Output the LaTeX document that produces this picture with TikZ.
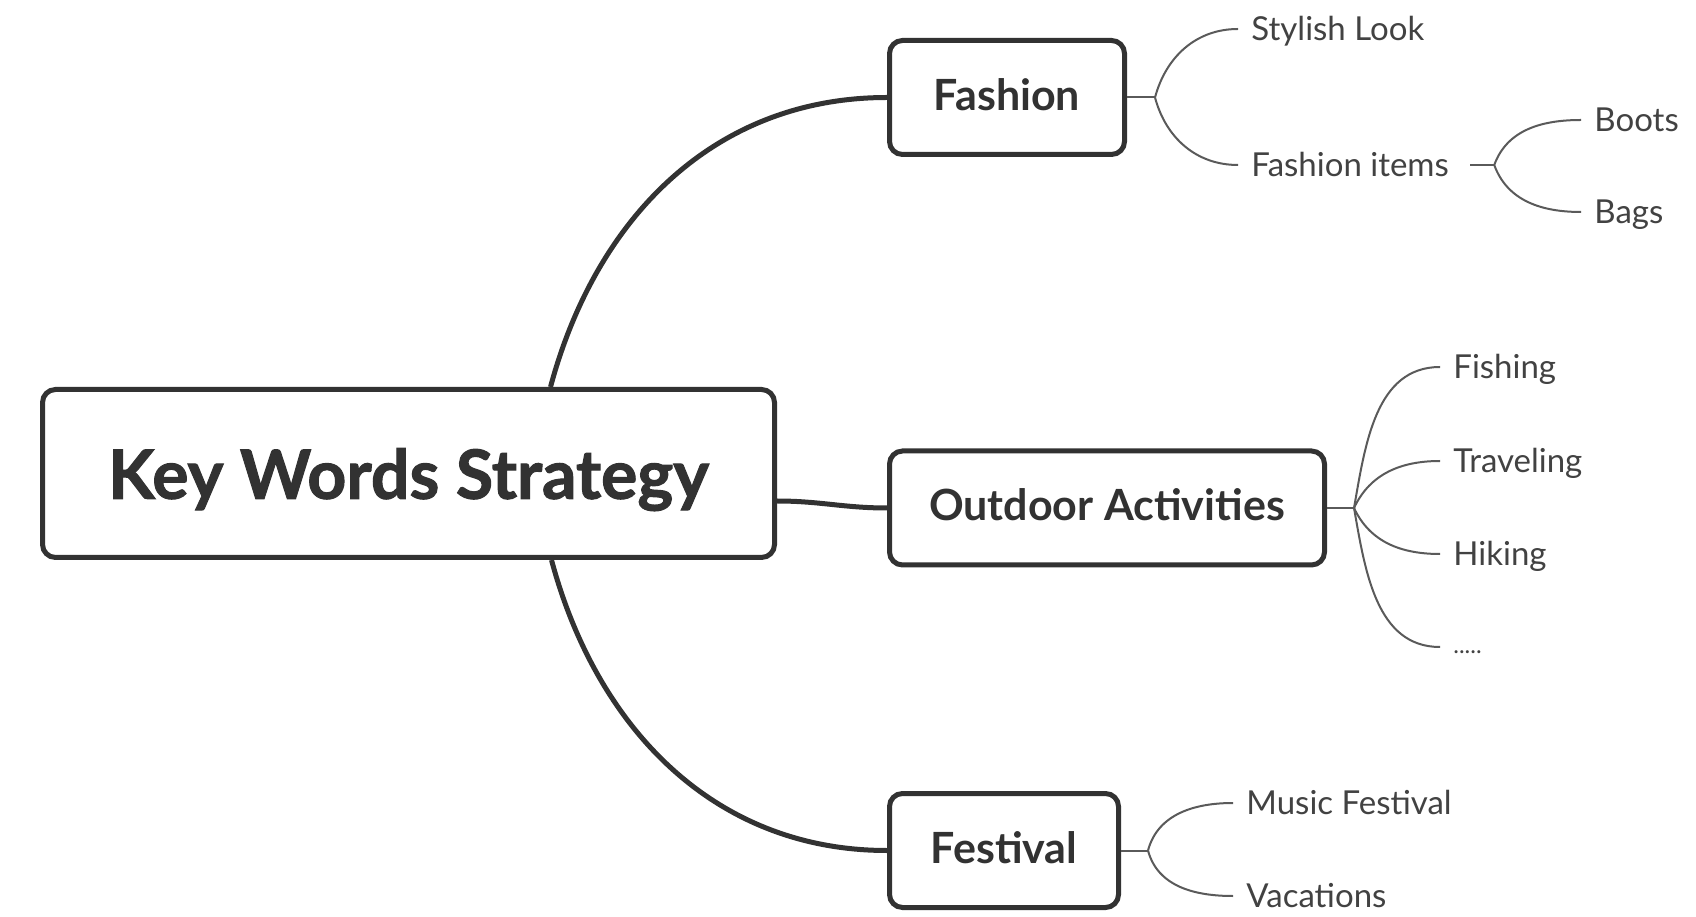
\documentclass[tikz,border=0pt]{standalone}
\usepackage{fontspec}
\setmainfont{Lato}
\newfontfamily\heavyfont{Lato}[BoldFeatures={FakeBold=1.5}]
\definecolor{inkdark}{RGB}{50,50,50}
\definecolor{inkgray}{RGB}{66,66,66}
\definecolor{twiggray}{RGB}{90,90,90}
\usetikzlibrary{positioning,calc}

\begin{document}
\begin{tikzpicture}[x=0.5pt,y=0.5pt]
  \tikzstyle{topic}=[rectangle,draw=inkdark,line width=2.5pt,rounded corners=6.5pt,fill=white,text=inkdark,align=center,text depth=0pt]
  \tikzstyle{rootbox}=[topic,minimum width=366pt,minimum height=84pt,font=\heavyfont\bfseries\fontsize{34}{40}\selectfont]
  \tikzstyle{sub}=[topic,minimum height=57pt,text depth=3pt,font=\bfseries\fontsize{21.5}{25}\selectfont]
  \tikzstyle{leaf}=[anchor=west,inner xsep=6.5pt,inner ysep=0pt,text height=12pt,text depth=.4pt,text=inkgray,font=\fontsize{16.5}{20}\selectfont]
  \tikzstyle{trunk}=[draw=inkdark,line width=2.5pt]
  \tikzstyle{twig}=[draw=twiggray,line width=1pt]

  \useasboundingbox (0,0) rectangle (1696,916);

  \node[rootbox] (root) at (408.5,442.5) {Key Words Strategy};
  \node[sub,minimum width=117.5pt] (fashion) at (1007,818.5) {Fashion};
  \node[sub,minimum width=217.5pt] (outdoor) at (1107,408) {Outdoor Activities};
  \node[sub,minimum width=114.5pt] (festival) at (1004,65.5) {Festival};

  \node[leaf] (stylish) at (1238,887) {Stylish Look};
  \node[leaf] (items) at (1238,751) {Fashion items};
  \node[leaf] (boots) at (1581,796) {Boots};
  \node[leaf] (bags) at (1581,704) {Bags};
  \node[leaf] (fishing) at (1440,549) {Fishing};
  \node[leaf] (traveling) at (1440,455) {Traveling};
  \node[leaf] (hiking) at (1440,362) {Hiking};
  \node[leaf,text height=6.4pt,font=\fontsize{12}{14}\selectfont] (more) at (1440,269) {.....};
  \node[leaf] (music) at (1233,113) {Music Festival};
  \node[leaf] (vacations) at (1233,20) {Vacations};

  \coordinate (ffork) at ($(fashion.east)+(28,0)$);
  \coordinate (ifork) at ($(items.east)+(32,0)$);
  \coordinate (ofork) at ($(outdoor.east)+(27,0)$);
  \coordinate (vfork) at ($(festival.east)+(27,0)$);

  \draw[trunk] ($(root.north)+(142,0)$) to[out=75,in=180] (fashion.west);
  \draw[trunk] ($(root.east |- outdoor.west)+(0,7)$) to[out=0,in=180] (outdoor.west);
  \draw[trunk] ($(root.south)+(143,0)$) to[out=-75,in=180] (festival.west);

  \draw[twig] (fashion.east) -- (ffork);
  \draw[twig] (ffork) to[out=75,in=180] (stylish.west);
  \draw[twig] (ffork) to[out=-75,in=180] (items.west);
  \draw[twig] ([xshift=4pt]items.east) -- (ifork);
  \draw[twig] (ifork) to[out=70,in=180] (boots.west);
  \draw[twig] (ifork) to[out=-70,in=180] (bags.west);

  \draw[twig] (outdoor.east) -- (ofork);
  \draw[twig] (ofork) to[out=80,in=180] (fishing.west);
  \draw[twig] (ofork) to[out=65,in=180] (traveling.west);
  \draw[twig] (ofork) to[out=-65,in=180] (hiking.west);
  \draw[twig] (ofork) to[out=-80,in=180] (more.west);

  \draw[twig] (festival.east) -- (vfork);
  \draw[twig] (vfork) to[out=75,in=180] (music.west);
  \draw[twig] (vfork) to[out=-75,in=180] (vacations.west);
\end{tikzpicture}
\end{document}
